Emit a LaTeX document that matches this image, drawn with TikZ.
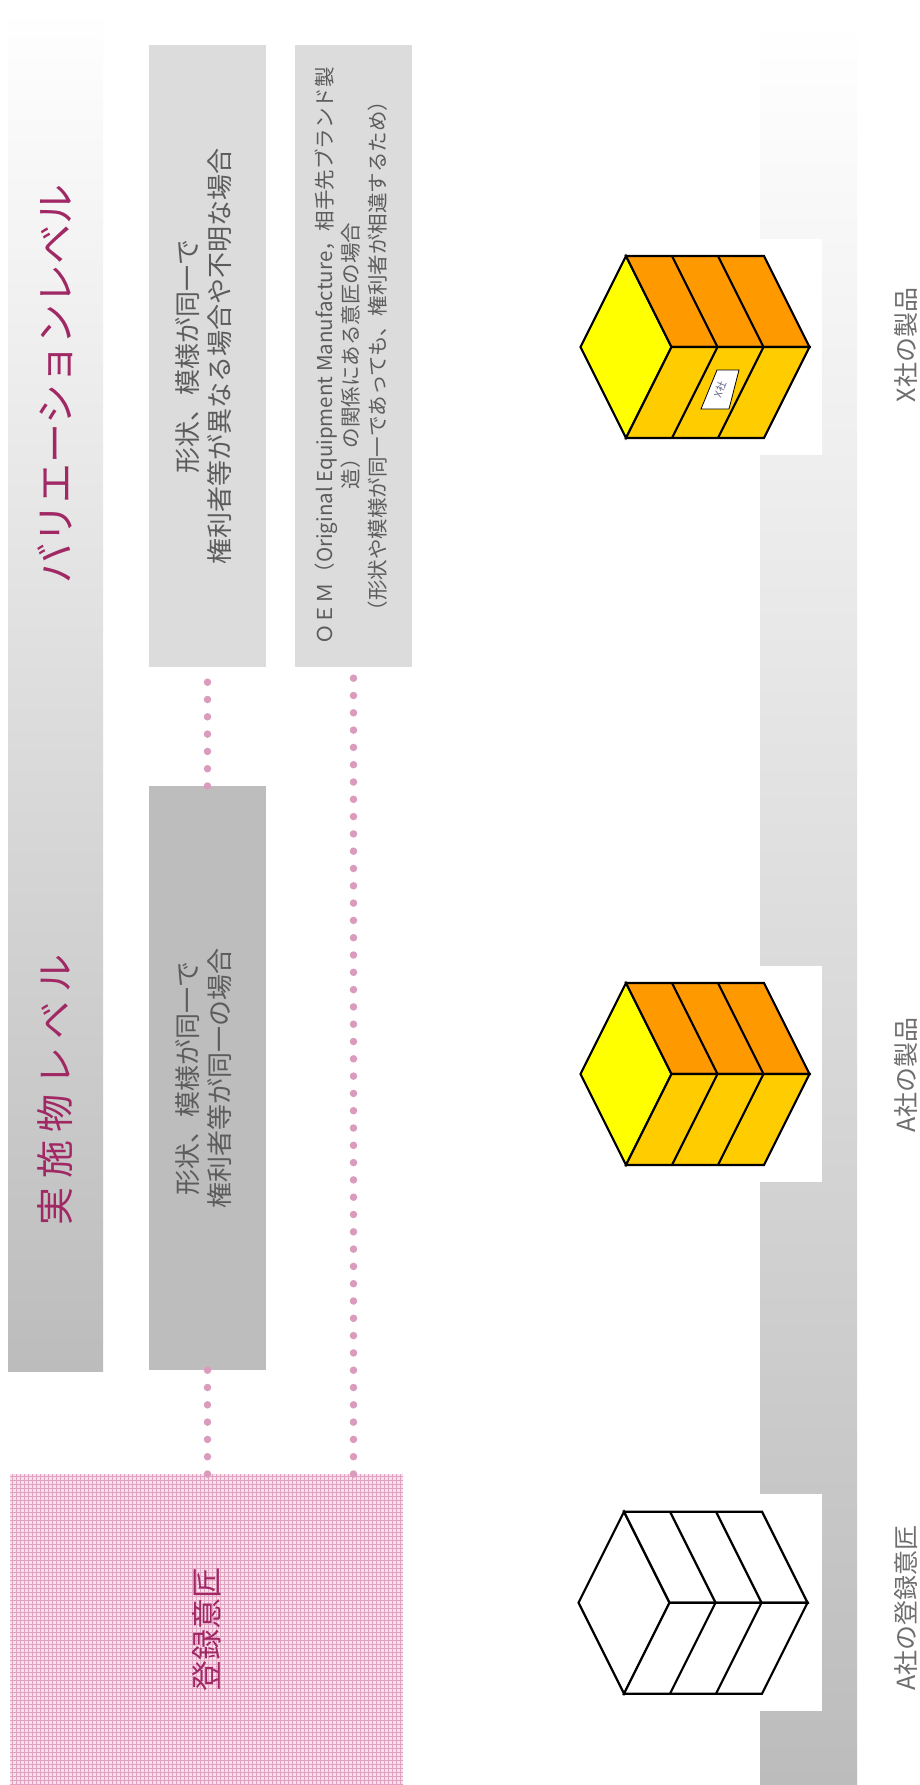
\documentclass[tikz,border=0pt]{standalone}
\usepackage{fontspec}
\setmainfont{Noto Sans CJK JP}
\usepackage{graphicx}

\definecolor{magentatext}{RGB}{160,40,100}
\definecolor{boxtext}{RGB}{92,92,92}
\definecolor{labeltext}{RGB}{110,110,110}
\definecolor{lightbox}{RGB}{220,220,220}
\definecolor{midbox}{RGB}{189,189,189}
\definecolor{dotpink}{RGB}{218,155,188}
\definecolor{pinkbase}{RGB}{247,226,236}
\definecolor{pinkline}{RGB}{224,162,192}
\definecolor{bannerlow}{RGB}{188,188,188}
\definecolor{bannermid}{RGB}{219,219,219}
\definecolor{faceyellow}{RGB}{255,255,0}
\definecolor{faceorange}{RGB}{255,153,0}
\definecolor{facegold}{RGB}{255,204,0}
\definecolor{marktext}{RGB}{95,95,135}

\tikzset{
  panel/.style={inner sep=0pt, outer sep=0pt, anchor=center},
  dotline/.style={draw=dotpink, line width=7.5pt, line cap=round,
                  dash pattern=on 0pt off 17.3pt},
  cubeline/.style={draw=black, line width=2.2pt},
  pics/prism/.style n args={3}{code={
    % left rhombus, upper band, lower band
    \draw[cubeline, fill=#1] (0,0) -- (45.5,-91) -- (91,0) -- (45.5,91) -- cycle;
    \draw[cubeline, fill=#2] (45.5,-91) -- (183.5,-91) -- (229,0) -- (91,0) -- cycle;
    \draw[cubeline, fill=#3] (91,0) -- (229,0) -- (183.5,91) -- (45.5,91) -- cycle;
    % chevron dividers between the three segments
    \foreach \k in {46,92}
      \draw[cubeline] (45.5+\k,-91) -- (91+\k,0) -- (45.5+\k,91);
  }}
}

\begin{document}
\begin{tikzpicture}[x=1pt,y=-1pt]
\useasboundingbox (0,0) rectangle (920,1785);
\fill[white] (0,0) rectangle (920,1785);

% ---- left level banner ----
\shade[top color=white, bottom color=bannerlow] (8,7) rectangle (103,1371);
\node[text=magentatext, font=\fontsize{40}{40}\selectfont] (vartitle) at (55,384)
  {\rotatebox{90}{バリエーションレベル}};
\node[text=magentatext, font=\fontsize{38}{38}\selectfont] (impltitle) at (55,1090)
  {\rotatebox{90}{実 施 物 レ ベ ル}};

% ---- condition boxes ----
\node[panel, fill=lightbox, minimum width=117pt, minimum height=622pt,
      text=boxtext, font=\fontsize{26}{32}\selectfont] (diff) at (207.5,356)
  {\rotatebox{90}{\begin{tabular}{@{}c@{}}形状、模様が同一で\\権利者等が異なる場合や不明な場合\end{tabular}}};

\node[panel, fill=lightbox, minimum width=117pt, minimum height=622pt,
      text=boxtext, font=\fontsize{20.5}{26.5}\selectfont] (oem) at (353.5,356)
  {\rotatebox{90}{\begin{tabular}{@{}c@{}}ＯＥＭ（Original Equipment Manufacture，相手先ブランド製\\造）の関係にある意匠の場合\\（形状や模様が同一であっても、権利者が相違するため）\end{tabular}}};

\node[panel, fill=midbox, minimum width=117pt, minimum height=584pt,
      text=boxtext, font=\fontsize{26}{32}\selectfont] (same) at (207.5,1078)
  {\rotatebox{90}{\begin{tabular}{@{}c@{}}形状、模様が同一で\\権利者等が同一の場合\end{tabular}}};

% ---- registered design area (pink grid texture) ----
\fill[pinkbase] (10,1474) rectangle (403,1785);
\begin{scope}
  \clip (10,1474) rectangle (403,1785);
  \draw[pinkline, line width=1pt, step=4pt, shift={(0.5,0.5)}] (8,1470) grid (404,1786);
\end{scope}
\node[panel, minimum width=393pt, minimum height=311pt,
      text=magentatext, font=\fontsize{31}{31}\selectfont] (reg) at (206.5,1629.5)
  {\rotatebox{90}{登録意匠}};

% ---- dotted links ----
\draw[dotline] (reg.north -| same.south) -- (same.south);
\draw[dotline] (same.north) -- (diff.south);
\draw[dotline] (reg.north -| oem.south) -- (oem.south);

% ---- right product banner ----
\shade[top color=white, middle color=bannermid, bottom color=bannerlow] (760,20) rectangle (857,1785);

% ---- product figures ----
\node[panel, fill=white, minimum width=259pt, minimum height=216pt] (xbg) at (692.5,347) {};
\pic (xprod) at (580.5,347) {prism={faceyellow}{faceorange}{facegold}};
\draw[fill=white, line width=0.8pt] (717,370) -- (739,370) -- (729,409) -- (701,409) -- cycle;
\node[text=marktext, font=\fontsize{10}{10}\selectfont, inner sep=0pt] (xmark) at (720,389.5)
  {\rotatebox{68}{X社}};

\node[panel, fill=white, minimum width=259pt, minimum height=216pt] (abg) at (692.5,1074) {};
\pic (aprod) at (580.5,1074) {prism={faceyellow}{faceorange}{facegold}};

\node[panel, fill=white, minimum width=259pt, minimum height=217pt] (rbg) at (692.5,1602.5) {};
\pic (rdesign) at (578.5,1602.7) {prism={white}{white}{white}};

% ---- product captions ----
\node[text=labeltext, font=\fontsize{25}{25}\selectfont] (xlabel) at (906,345)
  {\rotatebox{90}{X社の製品}};
\node[text=labeltext, font=\fontsize{25}{25}\selectfont] (alabel) at (906,1075)
  {\rotatebox{90}{A社の製品}};
\node[text=labeltext, font=\fontsize{25}{25}\selectfont] (rlabel) at (906,1608)
  {\rotatebox{90}{A社の登録意匠}};
\end{tikzpicture}
\end{document}
